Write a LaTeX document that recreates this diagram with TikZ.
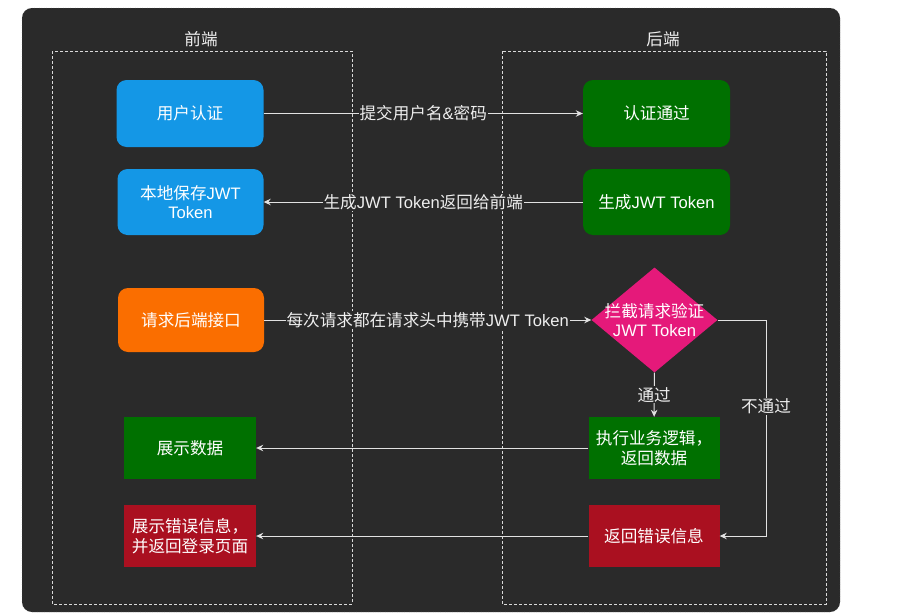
\documentclass[tikz,border=0pt]{standalone}
\usepackage{fontspec}
\setmainfont{Liberation Sans}
\newfontfamily\cjk{Noto Sans CJK SC}
\newcommand\zhs[1]{{\cjk #1}}
\usetikzlibrary{shapes.geometric,arrows.meta}
\definecolor{bg}{HTML}{2A2A2A}
\definecolor{lineclr}{HTML}{E2E2E2}
\definecolor{lblclr}{HTML}{EEEEEE}
\definecolor{cblue}{HTML}{1497E6}
\definecolor{cgreen}{HTML}{007000}
\definecolor{corange}{HTML}{FA6E00}
\definecolor{cred}{HTML}{AA1020}
\definecolor{cpink}{HTML}{E5197A}
\begin{document}
\begin{tikzpicture}[x=1pt,y=-1pt,
  box/.style={draw=none, text=white, align=center, inner sep=0pt,
    font=\fontsize{16.6}{19.5}\selectfont},
  rbox/.style={box, rounded corners=10pt},
  conn/.style={draw=lineclr, line width=1pt, -{Stealth[length=7pt,width=6.5pt]}},
  lbl/.style={fill=bg, text=lblclr, inner sep=1pt, font=\fontsize{16.6}{19.5}\selectfont},
  cont/.style={draw=white!85!black, dashed, dash pattern=on 3pt off 2pt, line width=0.8pt},
  ttl/.style={text=lblclr, font=\fontsize{16.6}{19.5}\selectfont, inner sep=0pt}]
\useasboundingbox (0,0) rectangle (897,613);
\fill[white] (0,0) rectangle (897,613);
\draw[fill=bg, draw=gray, dotted, rounded corners=10pt] (22,8) rectangle (840,612);

% titles
\node[ttl] (tf) at (201,39) {\zhs{前端}};
\node[ttl] (tb) at (663,39) {\zhs{后端}};

% front-end nodes
\node[rbox, fill=cblue, minimum width=147pt, minimum height=67pt] (auth) at (190,113.5) {\zhs{用户认证}};
\node[rbox, fill=cblue, minimum width=146pt, minimum height=66pt] (save) at (190.5,202) {\zhs{本地保存}JWT\\Token};
\node[rbox, fill=corange, minimum width=146pt, minimum height=64pt] (req) at (191,320) {\zhs{请求后端接口}};
\node[box, fill=cgreen, minimum width=132pt, minimum height=62pt] (show) at (190,448) {\zhs{展示数据}};
\node[box, fill=cred, minimum width=132pt, minimum height=62pt] (showerr) at (190,536) {\zhs{展示错误信息，}\\\zhs{并返回登录页面}};

% back-end nodes
\node[rbox, fill=cgreen, minimum width=147pt, minimum height=67pt] (ok) at (656.5,113.5) {\zhs{认证通过}};
\node[rbox, fill=cgreen, minimum width=147pt, minimum height=66pt] (gen) at (656.5,202) {\zhs{生成}JWT Token};
\node[diamond, fill=cpink, draw=none, inner sep=0pt, minimum width=126pt, minimum height=105pt] (d) at (654.5,320) {};
\node[box] (dl) at (d.center) {\zhs{拦截请求验证}\\JWT Token};
\node[box, fill=cgreen, minimum width=131pt, minimum height=62pt] (exec) at (654,448) {\zhs{执行业务逻辑，}\\\zhs{返回数据}};
\node[box, fill=cred, minimum width=131pt, minimum height=62pt] (err) at (654,536) {\zhs{返回错误信息}};

% containers
\draw[cont] (52,51) rectangle (352,604);
\draw[cont] (502,51) rectangle (826,604);

% connectors
\draw[conn] (auth) -- node[lbl] (l1) {\zhs{提交用户名}\&\zhs{密码}} (ok);
\draw[conn] (gen) -- node[lbl] (l2) {\zhs{生成}JWT Token\zhs{返回给前端}} (save);
\draw[conn] (req) -- node[lbl] (l3) {\zhs{每次请求都在请求头中携带}JWT Token} (d);
\draw[conn] (d) -- node[lbl] (l4) {\zhs{通过}} (exec);
\draw[conn] (exec) -- (show);
\draw[conn] (err) -- (showerr);
\coordinate (c1) at (766,320);
\coordinate (c2) at (766,536);
\draw[conn] (d.east) -- (c1) -- node[lbl, pos=0.4] (l5) {\zhs{不通过}} (c2) -- (err.east);
\end{tikzpicture}
\end{document}
